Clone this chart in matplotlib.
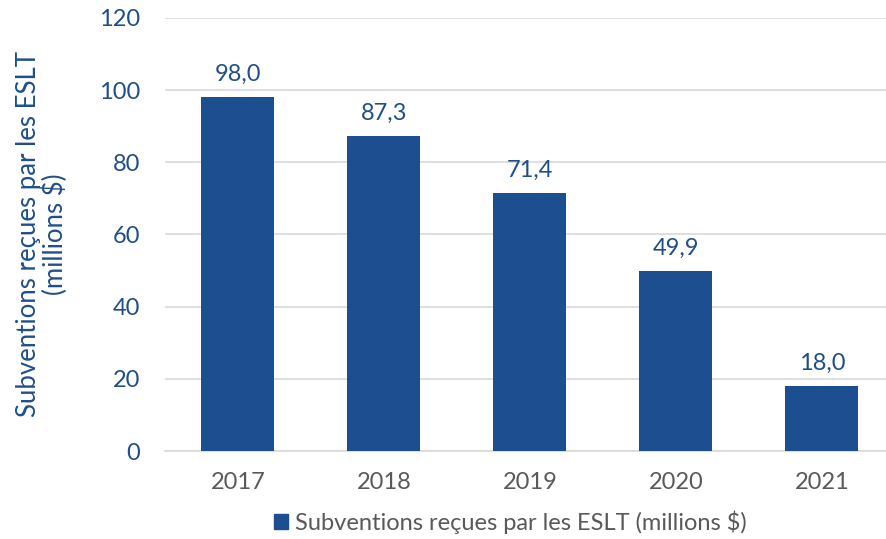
import matplotlib
matplotlib.use("Agg")
import matplotlib.pyplot as plt
from matplotlib.patches import Patch

years = ["2017", "2018", "2019", "2020", "2021"]
values = [98.0, 87.3, 71.4, 49.9, 18.0]
series_name = "Subventions reçues par les ESLT (millions $)"
ylabel = "Subventions reçues par les ESLT\n(millions $)"

plt.rcParams['font.family'] = ['Lato', 'DejaVu Sans']
blue = "#1D4E8F"
label_blue = "#1F4E8C"
gray = "#595959"

fig = plt.figure(figsize=(8.87, 5.39), dpi=100)
ax = fig.add_axes([0.186, 0.163, 0.823, 0.804])
x = range(len(years))
bars = ax.bar(x, values, width=0.5, color=blue, zorder=3)
for xi, v in zip(x, values):
    ax.annotate(f"{v:.1f}".replace(".", ","), (xi, v), xytext=(0, 9),
                textcoords="offset points", ha="center", va="bottom",
                fontsize=17, color=label_blue)
ax.set_xlim(-0.5, len(years) - 0.5)
ax.set_ylim(0, 120)
ax.set_yticks(range(0, 121, 20))
ax.set_xticks(list(x))
ax.set_xticklabels(years)
ax.grid(axis="y", color="#D9D9D9", linewidth=1.2, zorder=0)
for s in ["top", "right", "left"]:
    ax.spines[s].set_visible(False)
ax.spines["bottom"].set_color("#D9D9D9")
ax.spines["bottom"].set_linewidth(1.2)
ax.tick_params(axis="both", length=0)
ax.tick_params(axis="y", colors=label_blue, labelsize=17, pad=18)
ax.tick_params(axis="x", colors=gray, labelsize=17, pad=15)
ax.set_ylabel(ylabel, fontsize=18.5, color=label_blue, labelpad=22, linespacing=1.05)
fig.legend(handles=[Patch(color=blue, label=series_name)], loc="center",
           bbox_to_anchor=(0.575, 0.031), frameon=False, fontsize=17,
           handlelength=0.6, handleheight=0.6, handletextpad=0.3,
           labelcolor=gray)
fig.savefig("out.png", dpi=100)
